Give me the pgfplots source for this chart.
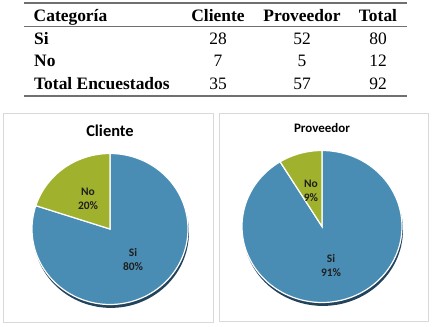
\documentclass[border=0pt]{standalone}
\usepackage{pgfplots}
\pgfplotsset{compat=1.18}
\usepackage{fontspec}
\setmainfont{Liberation Serif}
\newfontfamily\carl{Carlito}
\definecolor{siblue}{HTML}{4A8DB4}
\definecolor{nogreen}{HTML}{A0B12E}
\definecolor{shadowc}{HTML}{23435A}
\definecolor{framec}{HTML}{D9D9D9}
\definecolor{rulec}{HTML}{707070}
% data
\def\cliSi{28}\def\cliNo{7}
\def\proSi{52}\def\proNo{5}
\begin{document}
\begin{tikzpicture}[x=1bp,y=1bp]
\useasboundingbox (0,0) rectangle (432,327);
% ---------- table ----------
\draw[rulec,line width=1.6bp] (24,324) -- (407,324);
\draw[rulec,line width=0.8bp] (24,301) -- (407,301);
\draw[rulec,line width=1.6bp] (24,231) -- (407,231);
\begin{scope}[every node/.style={inner sep=0pt,font=\fontsize{17.5}{20}\selectfont}]
\node[anchor=base west] at (33.5,305.3) {\textbf{Categoría}};
\node[anchor=base] at (218,305.3) {\textbf{Cliente}};
\node[anchor=base] at (302,305.3) {\textbf{Proveedor}};
\node[anchor=base] at (378,305.3) {\textbf{Total}};
\node[anchor=base west] at (34,282.7) {\textbf{Si}};
\node[anchor=base] at (218,282.7) {28};
\node[anchor=base] at (302,282.7) {52};
\node[anchor=base] at (378,282.7) {80};
\node[anchor=base west] at (34,260.3) {\textbf{No}};
\node[anchor=base] at (218,260.3) {7};
\node[anchor=base] at (302,260.3) {5};
\node[anchor=base] at (378,260.3) {12};
\node[anchor=base west] at (34,237.7) {\textbf{Total Encuestados}};
\node[anchor=base] at (218,237.7) {35};
\node[anchor=base] at (302,237.7) {57};
\node[anchor=base] at (378,237.7) {92};
\end{scope}
% ---------- frames ----------
\draw[framec,line width=0.6bp] (3,5) rectangle (213,214);
\draw[framec,line width=0.6bp] (219,6) rectangle (428,214);
% ---------- Cliente pie ----------
\begin{axis}[at={(110bp,98bp)},anchor=center,scale only axis,width=156bp,height=151bp,
  xmin=-1,xmax=1,ymin=-1,ymax=1,hide axis,clip=false]
\addplot[fill=shadowc,draw=none,domain=0:360,samples=120] ({0.012+cos(x)},{-0.045+sin(x)}) -- cycle;
\addplot[fill=siblue,draw=white,line width=1.2bp,domain={90+360*\cliNo/(\cliSi+\cliNo)}:450,samples=120]
  ({cos(x)},{sin(x)}) -- (axis cs:0,0) -- cycle;
\addplot[fill=nogreen,draw=white,line width=1.2bp,domain=90:{90+360*\cliNo/(\cliSi+\cliNo)},samples=40]
  ({cos(x)},{sin(x)}) -- (axis cs:0,0) -- cycle;
\end{axis}
% ---------- Proveedor pie ----------
\begin{axis}[at={(322bp,100.5bp)},anchor=center,scale only axis,width=160bp,height=152bp,
  xmin=-1,xmax=1,ymin=-1,ymax=1,hide axis,clip=false]
\addplot[fill=shadowc,draw=none,domain=0:360,samples=120] ({0.012+cos(x)},{-0.045+sin(x)}) -- cycle;
\addplot[fill=siblue,draw=white,line width=1.2bp,domain={90+360*\proNo/(\proSi+\proNo)}:450,samples=120]
  ({cos(x)},{sin(x)}) -- (axis cs:0,0) -- cycle;
\addplot[fill=nogreen,draw=white,line width=1.2bp,domain=90:{90+360*\proNo/(\proSi+\proNo)},samples=30]
  ({cos(x)},{sin(x)}) -- (axis cs:0,0) -- cycle;
\end{axis}
% ---------- titles and labels ----------
\node[font=\carl\bfseries\fontsize{16.5}{19}\selectfont,inner sep=0pt] at (110,196) {Cliente};
\node[font=\carl\bfseries\fontsize{13}{15}\selectfont,inner sep=0pt] at (322,199) {Proveedor};
\begin{scope}[every node/.style={font=\carl\bfseries\fontsize{11.5}{14}\selectfont,align=center,inner sep=0pt,text=black!88}]
\node at (133,67) {Si\\80\%};
\node at (88,128) {No\\20\%};
\node at (331,61) {Si\\91\%};
\node at (311,136.5) {No\\9\%};
\end{scope}
\end{tikzpicture}
\end{document}
